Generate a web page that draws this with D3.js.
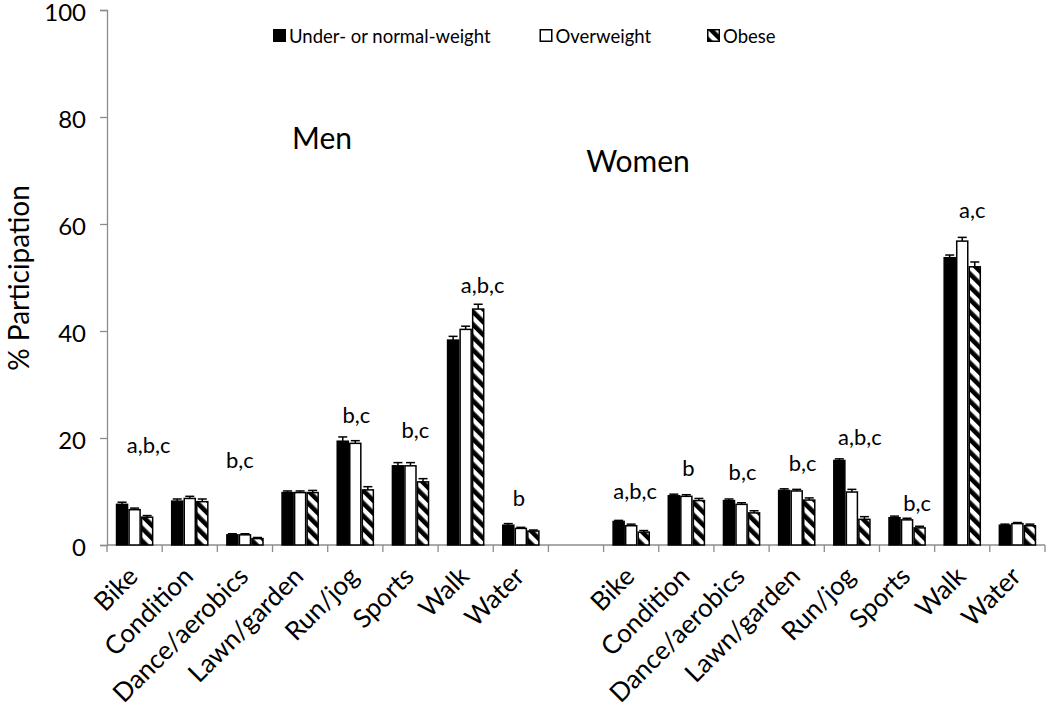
<!DOCTYPE html>
<html>
<head>
<meta charset="utf-8">
<script src="https://cdn.jsdelivr.net/npm/d3@7"></script>
<style>
  html, body { margin: 0; padding: 0; background: #fff; }
  svg { display: block; font-family: Lato, "Open Sans", sans-serif; }
</style>
</head>
<body>
<svg id="chart" width="1050" height="718"></svg>
<script>
// ---------- data ----------
const activities = ["Bike", "Condition", "Dance/aerobics", "Lawn/garden", "Run/jog", "Sports", "Walk", "Water"];
const seriesNames = ["Under- or normal-weight", "Overweight", "Obese"];
const yTicks = [0, 20, 40, 60, 80, 100];

const menNormal = [7.6, 8.2, 1.9, 9.8, 19.4, 14.8, 38.3, 3.7];
const menOver   = [6.6, 8.7, 1.9, 9.8, 19.0, 14.8, 40.3, 3.1];
const menObese  = [5.2, 8.1, 1.2, 9.8, 10.3, 11.8, 44.1, 2.6];
const menNormalErr = [0.4, 0.4, 0.2, 0.3, 0.8, 0.6, 0.7, 0.3];
const menOverErr   = [0.3, 0.4, 0.2, 0.3, 0.5, 0.6, 0.6, 0.2];
const menObeseErr  = [0.3, 0.5, 0.2, 0.4, 0.6, 0.6, 0.9, 0.2];

const womenNormal = [4.4, 9.2, 8.3, 10.2, 15.8, 5.1, 53.7, 3.7];
const womenOver   = [3.6, 9.1, 7.6, 10.1, 9.9, 4.7, 56.8, 4.0];
const womenObese  = [2.4, 8.3, 6.0, 8.4, 4.8, 3.2, 52.0, 3.6];
const womenNormalErr = [0.2, 0.3, 0.3, 0.3, 0.3, 0.3, 0.5, 0.2];
const womenOverErr   = [0.3, 0.3, 0.3, 0.3, 0.5, 0.3, 0.7, 0.2];
const womenObeseErr  = [0.3, 0.4, 0.4, 0.4, 0.5, 0.3, 0.9, 0.3];

// significance letters and the level (in % units) at which they are printed
const menSig        = ["a,b,c", "", "b,c", "", "b,c", "b,c", "a,b,c", "b"];
const menSigLevel   = [18.7, 0, 15.9, 0, 24.3, 21.5, 48.6, 8.8];
const womenSig      = ["a,b,c", "b", "b,c", "b,c", "a,b,c", "b,c", "a,c", ""];
const womenSigLevel = [10.0, 14.3, 13.7, 15.3, 20.2, 7.8, 62.6, 0];

// ---------- build rows ----------
const groups = [
  { sex: "Men", vals: [menNormal, menOver, menObese], errs: [menNormalErr, menOverErr, menObeseErr], sig: menSig, lvl: menSigLevel },
  { sex: "Women", vals: [womenNormal, womenOver, womenObese], errs: [womenNormalErr, womenOverErr, womenObeseErr], sig: womenSig, lvl: womenSigLevel }
];
const rows = [];
const keys = [];
groups.forEach((g, gi) => {
  activities.forEach((a, i) => {
    const key = g.sex + "|" + a;
    keys.push(key);
    rows.push({
      key, activity: a, sex: g.sex, idx: i,
      values: seriesNames.map((s, si) => ({ series: s, si, value: g.vals[si][i], err: g.errs[si][i] })),
      sig: g.sig[i], lvl: g.lvl[i]
    });
  });
  if (gi === 0) keys.push("gap");
});

// ---------- layout ----------
const svg = d3.select("#chart");
const x0 = d3.scaleBand().domain(keys).range([107, 1045]).padding(0);
const x1 = d3.scaleBand().domain(seriesNames).range([0, x0.bandwidth()]).paddingInner(0).paddingOuter(0.70);
const y = d3.scaleLinear().domain([0, 100]).range([545, 10]);

// hatch pattern
const defs = svg.append("defs");
const pat = defs.append("pattern")
  .attr("id", "hatch").attr("patternUnits", "userSpaceOnUse")
  .attr("width", 9).attr("height", 9)
  .attr("patternTransform", "rotate(-45)");
pat.append("rect").attr("width", 9).attr("height", 9).attr("fill", "#fff");
pat.append("rect").attr("x", 0).attr("width", 4.6).attr("height", 9).attr("fill", "#000");

const fills = ["#000", "#fff", "url(#hatch)"];

// y axis
const yAxis = svg.append("g").attr("transform", "translate(107,0)")
  .call(d3.axisLeft(y).tickValues(yTicks).tickSize(7).tickPadding(14));
yAxis.select(".domain").attr("stroke", "#8c8c8c").attr("stroke-width", 1.3);
yAxis.selectAll(".tick line").attr("stroke", "#8c8c8c").attr("stroke-width", 1.3);
yAxis.selectAll(".tick text").attr("font-size", 24).attr("fill", "#000")
  .attr("font-family", "Lato, sans-serif").attr("dy", "0.42em");

// x axis line + tick marks at band boundaries
const xAxisG = svg.append("g");
xAxisG.append("line").attr("x1", 107).attr("x2", 1045).attr("y1", y(0)).attr("y2", y(0))
  .attr("stroke", "#8c8c8c").attr("stroke-width", 1.3);
const boundaries = keys.map(k => x0(k)).concat([x0(keys[keys.length - 1]) + x0.bandwidth()]);
xAxisG.selectAll("line.tk").data(boundaries).join("line").attr("class", "tk")
  .attr("x1", d => d).attr("x2", d => d).attr("y1", y(0)).attr("y2", y(0) + 7)
  .attr("stroke", "#8c8c8c").attr("stroke-width", 1.3);

// x labels
svg.append("g").selectAll("text").data(rows).join("text")
  .attr("transform", d => `translate(${x0(d.key) + x0.bandwidth() / 2 + 5},${y(0) + 33}) rotate(-45)`)
  .attr("text-anchor", "end")
  .attr("font-size", 26)
  .attr("fill", "#000")
  .text(d => d.activity);

// bars
const barG = svg.append("g").selectAll("g").data(rows).join("g")
  .attr("transform", d => `translate(${x0(d.key)},0)`);
barG.selectAll("rect").data(d => d.values).join("rect")
  .attr("x", d => x1(d.series) + 0.75)
  .attr("width", x1.bandwidth() - 1.5)
  .attr("y", d => y(d.value))
  .attr("height", d => y(0) - y(d.value))
  .attr("fill", d => fills[d.si])
  .attr("stroke", "#000").attr("stroke-width", 1.5);

// error bars (upper only)
const eb = barG.selectAll("g.err").data(d => d.values).join("g").attr("class", "err");
eb.append("line")
  .attr("x1", d => x1(d.series) + x1.bandwidth() / 2).attr("x2", d => x1(d.series) + x1.bandwidth() / 2)
  .attr("y1", d => y(d.value)).attr("y2", d => y(d.value + d.err))
  .attr("stroke", "#000").attr("stroke-width", 1.5);
eb.append("line")
  .attr("x1", d => x1(d.series) + x1.bandwidth() / 2 - 4.5).attr("x2", d => x1(d.series) + x1.bandwidth() / 2 + 4.5)
  .attr("y1", d => y(d.value + d.err)).attr("y2", d => y(d.value + d.err))
  .attr("stroke", "#000").attr("stroke-width", 1.5);

// significance labels
const sigShift = {
  "Men|Bike": 14, "Men|Dance/aerobics": -5, "Men|Run/jog": 1, "Men|Sports": 5, "Men|Walk": 17, "Men|Water": -2,
  "Women|Bike": 4, "Women|Condition": 2, "Women|Dance/aerobics": 1, "Women|Lawn/garden": 6,
  "Women|Run/jog": 8, "Women|Sports": 10, "Women|Walk": 10
};
svg.append("g").selectAll("text").data(rows.filter(d => d.sig)).join("text")
  .attr("x", d => x0(d.key) + x0.bandwidth() / 2 + (sigShift[d.key] || 0))
  .attr("y", d => y(d.lvl))
  .attr("dy", "0.36em")
  .attr("text-anchor", "middle")
  .attr("font-size", 22)
  .attr("fill", "#000")
  .text(d => d.sig);

// panel titles
svg.append("text").attr("x", 322).attr("y", 149).attr("text-anchor", "middle")
  .attr("font-size", 30).attr("fill", "#000").text("Men");
svg.append("text").attr("x", 638).attr("y", 172).attr("text-anchor", "middle")
  .attr("font-size", 30).attr("fill", "#000").text("Women");

// y axis title
svg.append("text").attr("transform", "translate(29,278) rotate(-90)")
  .attr("text-anchor", "middle").attr("font-size", 28).attr("fill", "#000")
  .text("% Participation");

// legend
const legendX = [273, 539.5, 707];
const lg = svg.append("g").selectAll("g").data(seriesNames).join("g")
  .attr("transform", (d, i) => `translate(${legendX[i]},29)`);
lg.append("rect").attr("x", 0.75).attr("y", 0.75).attr("width", 11.5).attr("height", 11.5)
  .attr("fill", (d, i) => fills[i]).attr("stroke", "#000").attr("stroke-width", 1.5);
lg.append("text").attr("x", 16).attr("y", 13.5).attr("font-size", 18.5).attr("fill", "#000").text(d => d);
</script>
</body>
</html>
